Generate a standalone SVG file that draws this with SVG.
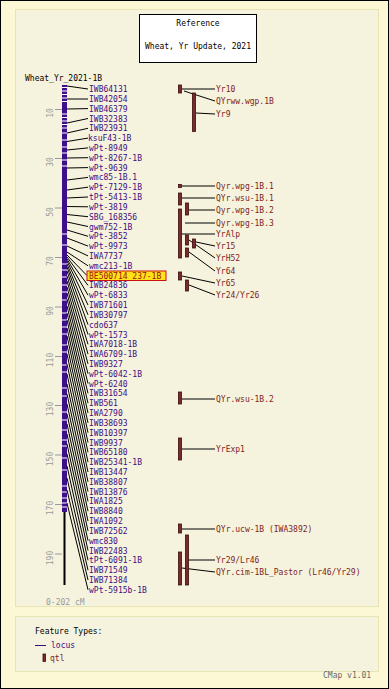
<svg xmlns="http://www.w3.org/2000/svg" width="389" height="689" viewBox="0 0 389 689">
<style>
text{font-family:"DejaVu Sans Mono","Liberation Mono",monospace;font-size:8px}
.mk{fill:#3f0c80}
.qt{fill:#801c1c}
.tk{fill:#999;font-size:8px}
.cn line,.cn polyline{stroke:#000;stroke-width:1;fill:none}
.q rect{fill:#7a2a2a;stroke:#3a0c0c;stroke-width:0.8}
.wt line{stroke:#fff;stroke-width:1}
</style>
<rect x="0.5" y="0.5" width="388" height="688" fill="#fcf8d6" stroke="#000"/>
<rect x="15.5" y="9.5" width="363" height="597" fill="#f5f3de" stroke="#e9e4b4"/>
<rect x="15.5" y="616.5" width="363" height="55" fill="#f5f3de" stroke="#e9e4b4"/>
<g id="title">
<rect x="139.5" y="14.5" width="117" height="48" fill="#fff" stroke="#000"/>
<text x="198" y="25.5" text-anchor="middle">Reference</text>
<text x="198" y="49" text-anchor="middle">Wheat, Yr Update, 2021</text>
</g>
<text x="25" y="80.5" font-size="8.2">Wheat_Yr_2021-1B</text>
<g id="axis">
<line x1="64.5" y1="85" x2="64.5" y2="585" stroke="#000" stroke-width="2"/>
<rect x="62" y="85" width="5" height="427" fill="#3d0f8a"/>
<g class="wt">
<line x1="62" x2="67" y1="87.5" y2="87.5"/><line x1="62" x2="67" y1="91" y2="91"/><line x1="62" x2="67" y1="94.5" y2="94.5"/><line x1="62" x2="67" y1="98" y2="98"/><line x1="62" x2="67" y1="101.5" y2="101.5"/>
<line x1="62" x2="67" y1="114" y2="114"/><line x1="62" x2="67" y1="117.5" y2="117.5"/><line x1="62" x2="67" y1="121" y2="121"/><line x1="62" x2="67" y1="124.5" y2="124.5"/><line x1="62" x2="67" y1="128" y2="128"/>
<line x1="62" x2="67" y1="133" y2="133"/><line x1="62" x2="67" y1="140" y2="140"/><line x1="62" x2="67" y1="147" y2="147"/><line x1="62" x2="67" y1="153" y2="153"/><line x1="62" x2="67" y1="160" y2="160"/><line x1="62" x2="67" y1="166" y2="166"/>
<line x1="62" x2="67" y1="234" y2="234"/><line x1="62" x2="67" y1="245" y2="245"/><line x1="62" x2="67" y1="264" y2="264"/><line x1="62" x2="67" y1="270" y2="270"/><line x1="62" x2="67" y1="277" y2="277"/><line x1="62" x2="67" y1="285" y2="285"/>
<line x1="62" x2="67" y1="292" y2="292"/><line x1="62" x2="67" y1="300" y2="300"/><line x1="62" x2="67" y1="313" y2="313"/><line x1="62" x2="67" y1="320" y2="320"/><line x1="62" x2="67" y1="327" y2="327"/><line x1="62" x2="67" y1="334" y2="334"/>
<line x1="62" x2="67" y1="345" y2="345"/><line x1="62" x2="67" y1="352" y2="352"/><line x1="62" x2="67" y1="365" y2="365"/><line x1="62" x2="67" y1="372" y2="372"/><line x1="62" x2="67" y1="388" y2="388"/><line x1="62" x2="67" y1="396" y2="396"/>
<line x1="62" x2="67" y1="412" y2="412"/><line x1="62" x2="67" y1="420" y2="420"/><line x1="62" x2="67" y1="430" y2="430"/><line x1="62" x2="67" y1="440" y2="440"/><line x1="62" x2="67" y1="446" y2="446"/><line x1="62" x2="67" y1="458" y2="458"/>
<line x1="62" x2="67" y1="470" y2="470"/><line x1="62" x2="67" y1="486" y2="486"/><line x1="62" x2="67" y1="492" y2="492"/><line x1="62" x2="67" y1="498" y2="498"/><line x1="62" x2="67" y1="503" y2="503"/><line x1="62" x2="67" y1="507" y2="507"/>
</g>
<g stroke="#999" stroke-width="1">
<line x1="55" x2="62" y1="109.5" y2="109.5"/><line x1="55" x2="62" y1="158.5" y2="158.5"/><line x1="55" x2="62" y1="208" y2="208"/><line x1="55" x2="62" y1="257.5" y2="257.5"/><line x1="55" x2="62" y1="307" y2="307"/>
<line x1="55" x2="62" y1="356.5" y2="356.5"/><line x1="55" x2="62" y1="405.5" y2="405.5"/><line x1="55" x2="62" y1="455" y2="455"/><line x1="55" x2="62" y1="504.5" y2="504.5"/><line x1="55" x2="62" y1="554" y2="554"/>
</g>
<g class="tk" text-anchor="middle">
<text transform="translate(53,113) rotate(-90)">10</text>
<text transform="translate(53,162) rotate(-90)">30</text>
<text transform="translate(53,212) rotate(-90)">50</text>
<text transform="translate(53,261) rotate(-90)">70</text>
<text transform="translate(53,311) rotate(-90)">90</text>
<text transform="translate(53,360) rotate(-90)">110</text>
<text transform="translate(53,409) rotate(-90)">130</text>
<text transform="translate(53,459) rotate(-90)">150</text>
<text transform="translate(53,508) rotate(-90)">170</text>
<text transform="translate(53,558) rotate(-90)">190</text>
</g>
<text x="46" y="604.5" class="tk">0-202 cM</text>
</g>
<g id="connectors" class="cn">
<line x1="67" y1="86" x2="88" y2="89"/><line x1="67" y1="99" x2="88" y2="99"/><line x1="67" y1="109" x2="88" y2="108.6"/><line x1="67" y1="123" x2="88" y2="118.5"/>
<line x1="67" y1="133" x2="88" y2="128.3"/><line x1="67" y1="141.5" x2="88" y2="138.1"/><line x1="67" y1="150" x2="88" y2="147.9"/><line x1="67" y1="158" x2="88" y2="157.7"/>
<line x1="67" y1="168" x2="88" y2="167.6"/><line x1="67" y1="180" x2="88" y2="177.4"/><line x1="67" y1="190" x2="88" y2="187.2"/><line x1="67" y1="198" x2="88" y2="197"/>
<line x1="67" y1="206.5" x2="88" y2="206.8"/><line x1="67" y1="214.5" x2="88" y2="216.7"/><line x1="67" y1="222" x2="88" y2="226.5"/><line x1="67" y1="230" x2="88" y2="236.3"/>
<line x1="67" y1="238" x2="88" y2="246.1"/><line x1="67" y1="246" x2="88" y2="255.9"/><line x1="67" y1="252" x2="88" y2="265.8"/><line x1="67" y1="255" x2="87" y2="275.6"/>
<line x1="67" y1="257" x2="88" y2="285.4"/><line x1="67" y1="259" x2="88" y2="295.2"/><line x1="67" y1="261" x2="88" y2="305"/><line x1="67" y1="264" x2="88" y2="314.8"/>
<line x1="67" y1="267" x2="88" y2="324.7"/><line x1="67" y1="271" x2="88" y2="334.5"/><line x1="67" y1="276" x2="88" y2="344.3"/><line x1="67" y1="281" x2="88" y2="354.1"/>
<line x1="67" y1="287" x2="88" y2="363.9"/><line x1="67" y1="293" x2="88" y2="373.8"/><line x1="67" y1="299" x2="88" y2="383.6"/><line x1="67" y1="306" x2="88" y2="393.4"/>
<line x1="67" y1="313" x2="88" y2="403.2"/><line x1="67" y1="320" x2="88" y2="413"/><line x1="67" y1="328" x2="88" y2="422.9"/><line x1="67" y1="336" x2="88" y2="432.7"/>
<line x1="67" y1="345" x2="88" y2="442.5"/><line x1="67" y1="354" x2="88" y2="452.3"/><line x1="67" y1="364" x2="88" y2="462.1"/><line x1="67" y1="374" x2="88" y2="472"/>
<line x1="67" y1="384" x2="88" y2="481.8"/><line x1="67" y1="394" x2="88" y2="491.6"/><line x1="67" y1="404" x2="88" y2="501.4"/><line x1="67" y1="414" x2="88" y2="511.2"/>
<line x1="67" y1="424" x2="88" y2="521.1"/><line x1="67" y1="434" x2="88" y2="530.9"/><line x1="67" y1="444" x2="88" y2="540.7"/><line x1="67" y1="454" x2="88" y2="550.5"/>
<line x1="67" y1="466" x2="88" y2="560.3"/><line x1="67" y1="478" x2="88" y2="570.2"/><line x1="67" y1="490" x2="88" y2="580"/><line x1="67" y1="503" x2="88" y2="589.8"/>
<line x1="182" y1="89" x2="215" y2="89"/>
<line x1="184" y1="91" x2="215" y2="101"/>
<line x1="196" y1="113" x2="215" y2="114"/>
<line x1="182" y1="186" x2="215" y2="186"/>
<line x1="182" y1="198" x2="215" y2="198"/>
<line x1="189" y1="210" x2="215" y2="210"/>
<line x1="185" y1="223" x2="215" y2="223"/>
<line x1="182" y1="234" x2="215" y2="234"/>
<line x1="196" y1="242" x2="215" y2="246"/>
<line x1="189" y1="240" x2="215" y2="258"/>
<line x1="189" y1="252" x2="215" y2="271"/>
<line x1="182" y1="276" x2="215" y2="283"/>
<line x1="189" y1="285" x2="215" y2="295"/>
<line x1="182" y1="399" x2="215" y2="399"/>
<line x1="182" y1="449" x2="215" y2="449"/>
<line x1="182" y1="529" x2="215" y2="529"/>
<line x1="189" y1="560" x2="215" y2="560"/>
<line x1="182" y1="568" x2="215" y2="572"/>
</g>
<g id="markers" class="mk">
<text x="89" y="92">IWB64131</text>
<text x="89" y="101.8">IWB42054</text>
<text x="89" y="111.6">IWB46379</text>
<text x="89" y="121.5">IWB32383</text>
<text x="89" y="131.3">IWB23931</text>
<text x="88" y="141.1">ksuF43-1B</text>
<text x="89" y="150.9">wPt-8949</text>
<text x="89" y="160.7">wPt-8267-1B</text>
<text x="89" y="170.6">wPt-9639</text>
<text x="89" y="180.4">wmc85-1B.1</text>
<text x="89" y="190.2">wPt-7129-1B</text>
<text x="89" y="200">tPt-5413-1B</text>
<text x="89" y="209.8">wPt-3819</text>
<text x="89" y="219.7">SBG_168356</text>
<text x="89" y="229.5">gwm752-1B</text>
<text x="89" y="239.3">wPt-3852</text>
<text x="89" y="249.1">wPt-9973</text>
<text x="89" y="258.9">IWA7737</text>
<text x="89" y="268.8">wmc213-1B</text>
<g id="hl"><rect x="87" y="271" width="79" height="9.5" fill="#ffe21a" stroke="#cc1010" stroke-width="1"/>
<text x="89" y="278.6" fill="#a01010">BE500714_237-1B</text></g>
<text x="89" y="288.4">IWB24836</text>
<text x="89" y="298.2">wPt-6833</text>
<text x="89" y="308">IWB71601</text>
<text x="89" y="317.8">IWB30797</text>
<text x="89" y="327.7">cdo637</text>
<text x="89" y="337.5">wPt-1573</text>
<text x="89" y="347.3">IWA7018-1B</text>
<text x="89" y="357.1">IWA6709-1B</text>
<text x="89" y="366.9">IWB9327</text>
<text x="89" y="376.8">wPt-6042-1B</text>
<text x="89" y="386.6">wPt-6240</text>
<text x="89" y="396.4">IWB31654</text>
<text x="89" y="406.2">IWB561</text>
<text x="89" y="416">IWA2790</text>
<text x="89" y="425.9">IWB38693</text>
<text x="89" y="435.7">IWB10397</text>
<text x="89" y="445.5">IWB9937</text>
<text x="89" y="455.3">IWB65180</text>
<text x="89" y="465.1">IWB25341-1B</text>
<text x="89" y="475">IWB13447</text>
<text x="89" y="484.8">IWB38807</text>
<text x="89" y="494.6">IWB13876</text>
<text x="89" y="504.4">IWA1825</text>
<text x="89" y="514.2">IWB8840</text>
<text x="89" y="524.1">IWA1092</text>
<text x="89" y="533.9">IWB72562</text>
<text x="89" y="543.7">wmc830</text>
<text x="89" y="553.5">IWB22483</text>
<text x="89" y="563.3">tPt-6091-1B</text>
<text x="89" y="573.2">IWB71549</text>
<text x="89" y="583">IWB71384</text>
<text x="89" y="592.8">wPt-5915b-1B</text>
</g>
<g id="qtls" class="q">
<g id="q-yr10"><rect x="178.5" y="85" width="3" height="8"/><text class="qt" x="216" y="92">Yr10</text></g>
<g id="q-qyrww"><text class="qt" x="216" y="104">QYrww.wgp.1B</text></g>
<g id="q-yr9"><rect x="192.5" y="93" width="3" height="38.5"/><text class="qt" x="216" y="117">Yr9</text></g>
<g id="q-wpg1"><rect x="178.5" y="184.5" width="3" height="3"/><text class="qt" x="216" y="189">Qyr.wpg-1B.1</text></g>
<g id="q-wsu1"><rect x="178.5" y="193" width="3" height="12"/><text class="qt" x="216" y="201">QYr.wsu-1B.1</text></g>
<g id="q-wpg2"><rect x="185.5" y="203" width="3" height="12"/><text class="qt" x="216" y="213">Qyr.wpg-1B.2</text></g>
<g id="q-wpg3"><text class="qt" x="216" y="226">Qyr.wpg-1B.3</text></g>
<g id="q-yralp"><rect x="178.5" y="209" width="3" height="49"/><text class="qt" x="216" y="237">YrAlp</text></g>
<g id="q-yr15"><rect x="192.5" y="239" width="3" height="9"/><text class="qt" x="216" y="249">Yr15</text></g>
<g id="q-yrh52"><rect x="185.5" y="235" width="3" height="10"/><text class="qt" x="216" y="261">YrH52</text></g>
<g id="q-yr64"><rect x="185.5" y="248" width="3" height="9"/><text class="qt" x="216" y="274">Yr64</text></g>
<g id="q-yr65"><rect x="178.5" y="272" width="3" height="8"/><text class="qt" x="216" y="286">Yr65</text></g>
<g id="q-yr24"><rect x="185.5" y="280" width="3" height="11"/><text class="qt" x="216" y="298">Yr24/Yr26</text></g>
<g id="q-wsu2"><rect x="178.5" y="392" width="3" height="12"/><text class="qt" x="216" y="402">QYr.wsu-1B.2</text></g>
<g id="q-yrexp1"><rect x="178.5" y="438" width="3" height="22"/><text class="qt" x="216" y="452">YrExp1</text></g>
<g id="q-ucw"><rect x="178.5" y="524" width="3" height="9"/><text class="qt" x="216" y="532">QYr.ucw-1B (IWA3892)</text></g>
<g id="q-cim"><rect x="178.5" y="552" width="3" height="33"/><text class="qt" x="216" y="575">QYr.cim-1BL_Pastor (Lr46/Yr29)</text></g>
<g id="q-yr29"><rect x="185.5" y="535" width="3" height="50"/><text class="qt" x="216" y="563">Yr29/Lr46</text></g>
</g>
<g id="legend">
<text x="35" y="634">Feature Types:</text>
<line x1="35" y1="645.5" x2="46" y2="645.5" stroke="#3f0c80"/>
<text x="51" y="648" class="mk">locus</text>
<rect x="43" y="654" width="2.5" height="7.5" fill="#7a2a2a" stroke="#3a0c0c" stroke-width="0.8"/>
<text x="50" y="661" class="qt">qtl</text>
</g>
<text x="323" y="678" fill="#666">CMap v1.01</text>
</svg>
